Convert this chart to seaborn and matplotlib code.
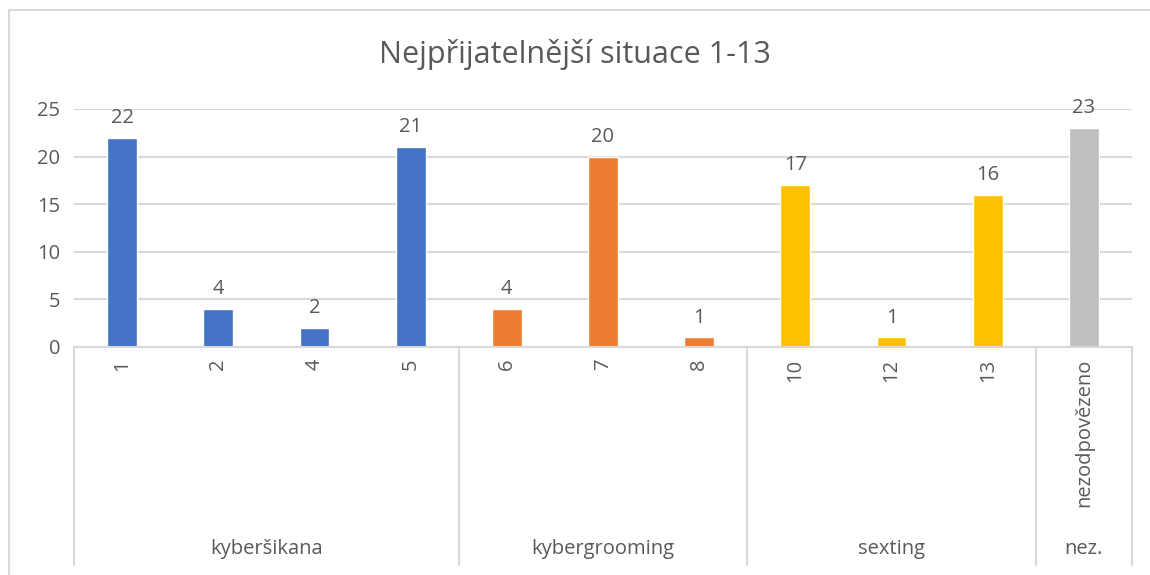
import pandas as pd
import seaborn as sns
import matplotlib.pyplot as plt
from matplotlib import transforms
from matplotlib.patches import Rectangle

# data
situace = ['1', '2', '4', '5', '6', '7', '8', '10', '12', '13', 'nezodpovězeno']
skupina = ['kyberšikana'] * 4 + ['kybergrooming'] * 3 + ['sexting'] * 3 + ['nez.']
pocty = [22, 4, 2, 21, 4, 20, 1, 17, 1, 16, 23]
barvy = {'kyberšikana': '#4472C4', 'kybergrooming': '#ED7D31',
         'sexting': '#FFC000', 'nez.': '#BFBFBF'}

dados = pd.DataFrame({'Situace': situace, 'Skupina': skupina, 'Pocet': pocty})

sns.set_style('white')
plt.rcParams['font.family'] = ['Open Sans', 'DejaVu Sans']
text_col = '#595959'
grid_col = '#D9D9D9'
fs = 14.5

fig = plt.figure(figsize=(11.5, 5.75), dpi=100)
# ramecek grafu
fig.patches.append(Rectangle((9 / 1150, -0.1), 1.2, (575 - 10) / 575 + 0.1,
                             transform=fig.transFigure, fill=False,
                             edgecolor=grid_col, linewidth=1.5))

ax = fig.add_axes([74 / 1150, (575 - 347) / 575, 1058 / 1150, 238 / 575])
sns.barplot(data=dados, x='Situace', y='Pocet', hue='Skupina', palette=barvy,
            dodge=False, width=0.31, saturation=1, legend=False, ax=ax,
            order=situace)

ax.set_xlim(-0.5, len(situace) - 0.5)
ax.set_ylim(0, 25)
ax.set_yticks(range(0, 26, 5))
ax.tick_params(axis='y', length=0, labelsize=fs, labelcolor=text_col, pad=10)
ax.yaxis.grid(True, color=grid_col, linewidth=1.5)
ax.set_axisbelow(True)
for s in ['top', 'right', 'left']:
    ax.spines[s].set_visible(False)
ax.spines['bottom'].set_color(grid_col)
ax.spines['bottom'].set_linewidth(1.5)
ax.set_xlabel('')
ax.set_ylabel('')
ax.set_xticks([])

# popisky hodnot
for i, v in enumerate(pocty):
    ax.annotate(str(v), xy=(i, v), xytext=(0, 7), textcoords='offset points',
                ha='center', va='bottom', fontsize=fs, color=text_col)

# viceurovnova osa x
trans = transforms.blended_transform_factory(ax.transData, ax.transAxes)
for i, s in enumerate(situace):
    ax.text(i, -0.05, s, transform=trans, rotation=90, ha='center', va='top',
            fontsize=fs, color=text_col)

hranice = [-0.5]
skupiny = []
for i, g in enumerate(skupina):
    if i == len(skupina) - 1 or skupina[i + 1] != g:
        hranice.append(i + 0.5)
        skupiny.append(g)
for b in hranice:
    ax.plot([b, b], [0, -0.915], transform=trans, color=grid_col,
            linewidth=1.5, clip_on=False)
for g, a, b in zip(skupiny, hranice[:-1], hranice[1:]):
    ax.text((a + b) / 2, -0.85, g, transform=trans, ha='center', va='center',
            fontsize=fs, color=text_col)

fig.suptitle('Nejpřijatelnější situace 1-13', y=1 - 55 / 575, va='center',
             fontsize=22, color=text_col)

plt.savefig('out.png', dpi=100)
